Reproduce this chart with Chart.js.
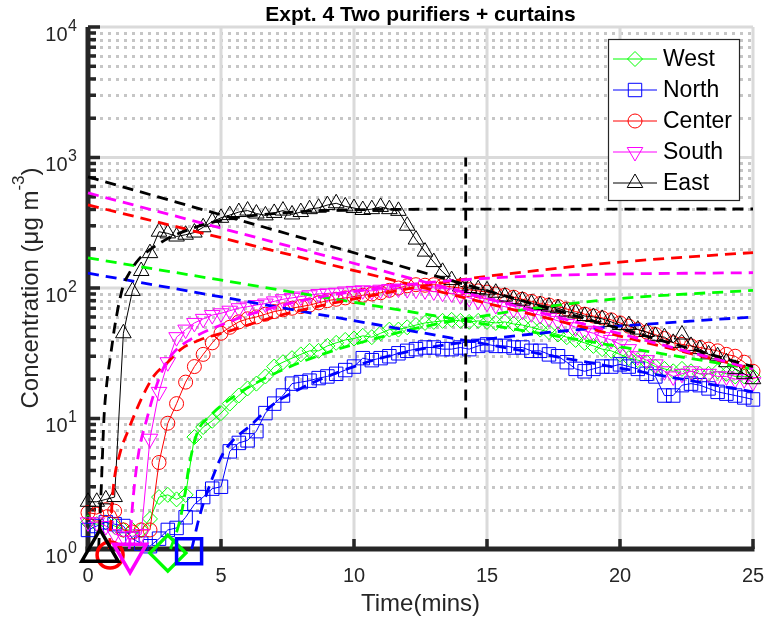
<!DOCTYPE html>
<html>
<head>
<meta charset="utf-8">
<title>Expt. 4 Two purifiers + curtains</title>
<script src="https://cdn.jsdelivr.net/npm/chart.js@4.4.1/dist/chart.umd.min.js"></script>
<style>
  html, body { margin: 0; padding: 0; background: #ffffff; }
  canvas { display: block; }
</style>
</head>
<body>
<canvas id="expt4" width="765" height="622"></canvas>
<script>
// readings every 20 s (minutes)
const timeMin = [
  0, 0.33, 0.67, 1, 1.33, 1.67, 2, 2.33, 2.67, 3,
  3.33, 3.67, 4, 4.33, 4.67, 5, 5.33, 5.67, 6, 6.33,
  6.67, 7, 7.33, 7.67, 8, 8.33, 8.67, 9, 9.33, 9.67,
  10, 10.33, 10.67, 11, 11.33, 11.67, 12, 12.33, 12.67, 13,
  13.33, 13.67, 14, 14.33, 14.67, 15, 15.33, 15.67, 16, 16.33,
  16.67, 17, 17.33, 17.67, 18, 18.33, 18.67, 19, 19.33, 19.67,
  20, 20.33, 20.67, 21, 21.33, 21.67, 22, 22.33, 22.67, 23,
  23.33, 23.67, 24, 24.33, 24.67, 25
];

// concentrations, ug/m3
const west = [
  1.6, 1.55, 1.6, 1.5, 1.4, 1.4, 1.4, 1.7, 2.5, 2.6,
  2.4, 2.6, 7.2, 8.6, 9.6, 11, 13, 15, 17, 18.5,
  21, 25, 27, 29, 31, 33, 33, 36, 38, 40,
  41, 43, 42, 45, 48, 48, 50, 52, 54, 55,
  56, 57, 56, 55, 56, 55, 54, 55, 53, 52,
  50, 48, 46, 44, 42, 40, 38, 36, 34, 33,
  31, 29, 28, 27, 25, 24, 23, 24, 23, 22,
  22, 23, 22, 21, 21, 21
];
const north = [
  1.4, 1.5, 1.6, 1.55, 1.5, 1.2, 1.1, 1.05, 1.2, 1.4,
  1.45, 1.75, 2.2, 2.5, 2.9, 3.0, 5.6, 6.5, 6.8, 8,
  11, 13, 15, 18.5, 19, 19.5, 20.4, 21, 22, 23.5,
  25, 29, 28, 29, 30, 31.6, 33, 34, 35, 35,
  34, 34, 35, 34, 36, 37, 36, 36, 35, 35,
  33, 33, 31, 30, 27, 24, 23, 24, 25, 25,
  26, 25, 24, 22, 21, 15, 15, 18, 18.5, 18,
  17, 16, 15.5, 15, 14.5, 14
];
const center = [
  1.9, 1.85, 2.0, 1.95, 1.4, 1.35, 1.4, 1.4, 4.6, 9.2,
  13, 19, 25, 31, 38, 45, 50, 55, 58, 60,
  63, 66, 68, 70, 72, 74, 77, 80, 82, 84,
  86, 88, 90, 92, 96, 100, 104, 106, 105, 106,
  104, 102, 100, 97, 95, 93, 90, 88, 85, 82,
  79, 76, 74, 72, 69, 66, 63, 61, 59, 57,
  54, 51, 48, 46, 44, 41, 38, 37, 36, 35,
  34, 33, 31, 30, 27, 23
];
const south = [
  1.6, 1.6, 1.5, 1.3, 1.25, 1.25, 1.3, 7, 16, 27,
  42, 48, 54, 58, 62, 64, 67, 70, 72, 74,
  76, 79, 82, 84, 86, 88, 90, 91, 92, 94,
  95, 96, 95, 97, 98, 99, 98, 97, 96, 94,
  92, 91, 88, 84, 80, 77, 74, 72, 69, 67,
  64, 62, 59, 56, 53, 50, 47, 45, 42, 40,
  37, 34, 30, 28, 26, 23, 21, 22, 23, 22,
  22, 21, 21, 20, 20, 19
];
const east = [
  2.3, 2.3, 2.4, 2.5, 45, 95, 135, 185, 270, 262,
  248, 256, 266, 292, 322, 345, 362, 382, 392, 372,
  360, 376, 392, 366, 382, 402, 412, 432, 446, 422,
  410, 396, 402, 418, 402, 390, 300, 235, 190, 158,
  133, 115, 103, 100, 98, 96, 92, 86, 82, 80,
  76, 74, 72, 70, 66, 64, 61, 60, 58, 55,
  52, 52, 48, 46, 43, 42, 38, 44, 36, 34,
  31, 30, 27, 24, 22, 20
];

// decay fits, drawn back to t = 0
const decayT = [0, 25];
const westDecay = [170, 24];
const northDecay = [130, 16];
const centerDecay = [433, 24];
const southDecay = [535, 24];
const eastDecay = [710, 25];

// build-up fits
const westRiseT = [3.1, 3.46, 3.65, 3.77, 4.1, 4.6, 5.45, 7, 9, 11, 12.5, 14.2, 17, 20, 25];
const westRise = [1, 1.67, 2.7, 4.0, 7.7, 10.5, 14.6, 22, 32, 42, 50, 58, 71, 83, 96];
const northRiseT = [3.9, 4.2, 4.7, 5.1, 6.2, 7, 8, 9, 10, 11, 12.5, 14.2, 17, 20, 25];
const northRise = [1, 1.8, 3.6, 5.5, 9.2, 13, 17, 21, 25, 29, 34, 38.6, 45, 51, 60];
const centerRiseT = [0.8, 0.94, 1.2, 1.5, 1.85, 2.2, 2.5, 3, 3.5, 4.2, 5.2, 7, 9, 11, 12.5, 14.2, 17, 20, 25];
const centerRise = [1, 2.8, 5.4, 8, 12, 17, 21.5, 27, 34, 40, 46, 60, 75, 90, 103, 117, 137, 158, 187];
const southRiseT = [1.55, 1.7, 1.9, 2.2, 2.5, 2.8, 3.2, 4, 5, 6, 7, 8, 10, 12, 14.2, 17, 20, 25];
const southRise = [1, 2.5, 5.4, 9.7, 16, 23.5, 31.7, 42, 52, 62, 71, 80, 94, 106, 116, 124, 128, 131];
const eastRiseT = [0.4, 0.5, 0.6, 0.7, 0.8, 0.9, 1.0, 1.3, 1.6, 1.9, 2.3, 2.6, 3, 4, 5, 6, 7, 8, 10, 12, 14, 25];
const eastRise = [1, 3, 10, 18, 26, 36, 50, 100, 135, 165, 195, 214, 240, 290, 330, 355, 372, 385, 397, 401, 402, 403];

// purifiers switched on
const switchOnT = [14.2, 14.2];
const switchOnC = [10, 1000];

// first arrival at each sensor: West, North, Center, South, East
const arrivalT = [3.0, 3.8, 0.83, 1.58, 0.45];
const arrivalC = [0.93, 0.96, 0.9, 0.92, 0.97];

const xTickValues = [0, 5, 10, 15, 20, 25];
const yTickValues = [1, 10, 100, 1000, 10000];
const yTickExp = ['0', '1', '2', '3', '4'];

Chart.defaults.font.family = "'Liberation Sans', Arial, Helvetica, sans-serif";
Chart.defaults.color = '#262626';

const INK = '#262626';
const NONE = 'rgba(0,0,0,0)';
const DASH = [11, 7];

const sensors = [
  { label: 'West',   data: west,   color: '#00ff00', style: 'rectRot',  r: 7.5, rot: 0,   big: 18,   decay: westDecay,   riseT: westRiseT,   rise: westRise },
  { label: 'North',  data: north,  color: '#0000ff', style: 'rect',     r: 9.5, rot: 0,   big: 17.7, decay: northDecay,  riseT: northRiseT,  rise: northRise },
  { label: 'Center', data: center, color: '#ff0000', style: 'circle',   r: 7,   rot: 0,   big: 13,   decay: centerDecay, riseT: centerRiseT, rise: centerRise },
  { label: 'South',  data: south,  color: '#ff00ff', style: 'triangle', r: 9,   rot: 180, big: 19,   decay: southDecay,  riseT: southRiseT,  rise: southRise },
  { label: 'East',   data: east,   color: '#000000', style: 'triangle', r: 9,   rot: 0,   big: 21,   decay: eastDecay,   riseT: eastRiseT,   rise: eastRise }
];

const xy = (xs, ys) => xs.map((x, i) => ({ x: x, y: ys[i] }));

const datasets = [];
sensors.forEach((s, i) => {
  datasets.push({
    label: s.label,
    data: xy(timeMin, s.data),
    borderColor: s.color,
    borderWidth: 1,
    backgroundColor: NONE,
    pointStyle: s.style,
    pointRotation: s.rot,
    pointRadius: s.r,
    pointBorderColor: s.color,
    pointBackgroundColor: NONE,
    pointBorderWidth: 1,
    tension: 0,
    clip: false,
    order: 20 - i
  });
});
sensors.forEach((s, i) => {
  datasets.push({
    label: s.label + ' decay fit',
    data: xy(decayT, s.decay),
    borderColor: s.color, borderWidth: 2.8, borderDash: DASH,
    pointRadius: 0, tension: 0, clip: false, order: 10 - i
  });
  datasets.push({
    label: s.label + ' build-up fit',
    data: xy(s.riseT, s.rise),
    borderColor: s.color, borderWidth: 2.8, borderDash: DASH,
    pointRadius: 0, cubicInterpolationMode: 'monotone', clip: false, order: 10 - i
  });
});
datasets.push({
  label: 'purifiers on',
  data: xy(switchOnT, switchOnC),
  borderColor: '#000000', borderWidth: 2.8, borderDash: DASH,
  pointRadius: 0, tension: 0, clip: false, order: 1
});
datasets.push({
  label: 'arrival',
  data: xy(arrivalT, arrivalC),
  showLine: false,
  pointStyle: sensors.map(s => s.style),
  pointRotation: sensors.map(s => s.rot),
  pointRadius: sensors.map(s => s.big),
  pointBorderColor: sensors.map(s => s.color),
  pointBackgroundColor: NONE,
  pointBorderWidth: 3.5,
  clip: false,
  order: 0
});

function seg(ctx, x1, y1, x2, y2) {
  ctx.beginPath();
  ctx.moveTo(x1, y1);
  ctx.lineTo(x2, y2);
  ctx.stroke();
}

const matlabFrame = {
  id: 'matlabFrame',
  beforeDatasetsDraw(chart) {
    const { ctx, chartArea: a, scales: { x, y } } = chart;
    ctx.save();
    // dotted minor grid
    ctx.strokeStyle = '#c6c6c6';
    ctx.lineWidth = 3;
    ctx.setLineDash([3, 5]);
    for (let d = 0; d < yTickValues.length - 1; d++) {
      for (let m = 2; m <= 9; m++) {
        const py = Math.round(y.getPixelForValue(yTickValues[d] * m)) + 0.5;
        seg(ctx, a.left + 4, py, a.right, py);
      }
    }
    // major grid
    ctx.setLineDash([]);
    ctx.strokeStyle = '#dadada';
    yTickValues.slice(1).forEach(v => {
      const py = y.getPixelForValue(v);
      seg(ctx, a.left, py, a.right, py);
    });
    xTickValues.slice(1).forEach(v => {
      const px = x.getPixelForValue(v);
      seg(ctx, px, a.top, px, a.bottom);
    });
    // axes, left and bottom only
    ctx.strokeStyle = INK;
    ctx.lineWidth = 5;
    seg(ctx, a.left, a.top, a.left, a.bottom + 2.5);
    seg(ctx, a.left - 2.5, a.bottom, a.right + 1.5, a.bottom);
    // inward ticks
    ctx.lineWidth = 3.5;
    for (let d = 0; d < yTickValues.length; d++) {
      const py = y.getPixelForValue(yTickValues[d]);
      seg(ctx, a.left, py, a.left + 12, py);
      if (d === yTickValues.length - 1) break;
      for (let m = 2; m <= 9; m++) {
        const pm = y.getPixelForValue(yTickValues[d] * m);
        seg(ctx, a.left, pm, a.left + 8, pm);
      }
    }
    xTickValues.slice(1).forEach(v => {
      const px = x.getPixelForValue(v);
      seg(ctx, px, a.bottom, px, a.bottom - 10);
    });
    ctx.restore();
  },
  afterDraw(chart) {
    const { ctx, chartArea: a, scales: { x, y } } = chart;
    const fam = Chart.defaults.font.family;
    ctx.save();
    ctx.fillStyle = INK;
    ctx.textBaseline = 'alphabetic';
    // x tick labels
    ctx.font = '20px ' + fam;
    ctx.textAlign = 'center';
    xTickValues.forEach(v => ctx.fillText(String(v), x.getPixelForValue(v), a.bottom + 33));
    // y tick labels 10^n
    yTickValues.forEach((v, i) => {
      const py = y.getPixelForValue(v);
      ctx.font = '20px ' + fam;
      ctx.textAlign = 'right';
      ctx.fillText('10', 67.5, py + 13.5);
      ctx.font = '16px ' + fam;
      ctx.textAlign = 'left';
      ctx.fillText(yTickExp[i], 68, py + 3.5);
    });
    // y axis title with superscript
    ctx.save();
    ctx.translate(37.5, (a.top + a.bottom) / 2);
    ctx.rotate(-Math.PI / 2);
    ctx.textAlign = 'left';
    const p1 = 'Concentration (\u03bcg m', p2 = '-3', p3 = ')';
    ctx.font = '24px ' + fam;
    const w1 = ctx.measureText(p1).width, w3 = ctx.measureText(p3).width;
    ctx.font = '17px ' + fam;
    const w2 = ctx.measureText(p2).width;
    let sx = -(w1 + w2 + w3) / 2;
    ctx.font = '24px ' + fam;
    ctx.fillText(p1, sx, 0);
    ctx.font = '17px ' + fam;
    ctx.fillText(p2, sx + w1, -14);
    ctx.font = '24px ' + fam;
    ctx.fillText(p3, sx + w1 + w2, 0);
    ctx.restore();

    // legend box
    const bx = 608.5, by = 39.5, bw = 131, bh = 161;
    ctx.fillStyle = '#ffffff';
    ctx.fillRect(bx, by, bw, bh);
    ctx.strokeStyle = INK;
    ctx.lineWidth = 1.2;
    ctx.strokeRect(bx, by, bw, bh);
    ctx.font = '23px ' + fam;
    ctx.textAlign = 'left';
    ctx.textBaseline = 'middle';
    sensors.forEach((s, i) => {
      const ly = 59 + i * 31;
      ctx.strokeStyle = s.color;
      ctx.lineWidth = 1;
      seg(ctx, 613, ly, 657, ly);
      ctx.fillStyle = NONE;
      Chart.helpers.drawPoint(ctx, { pointStyle: s.style, rotation: s.rot, radius: s.r, borderWidth: 1 }, 635, ly);
      ctx.fillStyle = '#000000';
      ctx.fillText(s.label, 663, ly + 1);
    });
    ctx.restore();
  }
};

new Chart(document.getElementById('expt4'), {
  type: 'line',
  data: { datasets: datasets },
  options: {
    responsive: false,
    animation: false,
    events: [],
    layout: { autoPadding: false, padding: { left: 0, right: 12, top: 0, bottom: 0 } },
    scales: {
      x: {
        type: 'linear',
        min: 0,
        max: 25,
        grid: { display: false, drawTicks: false },
        border: { display: false },
        ticks: { display: false },
        title: { display: true, text: 'Time(mins)', color: INK, font: { size: 24 }, padding: { top: 0, bottom: 3 } },
        afterFit(s) { s.height = 73; }
      },
      y: {
        type: 'logarithmic',
        min: 1,
        max: 10000,
        grid: { display: false, drawTicks: false },
        border: { display: false },
        ticks: { display: false },
        afterFit(s) { s.width = 88; }
      }
    },
    plugins: {
      legend: { display: false },
      tooltip: { enabled: false },
      title: {
        display: true,
        fullSize: false,
        text: 'Expt. 4 Two purifiers + curtains',
        color: '#000000',
        font: { size: 21, weight: 'bold', lineHeight: 1.1 },
        padding: { top: 3.5, bottom: 0.4 }
      }
    }
  },
  plugins: [matlabFrame]
});
</script>
</body>
</html>
